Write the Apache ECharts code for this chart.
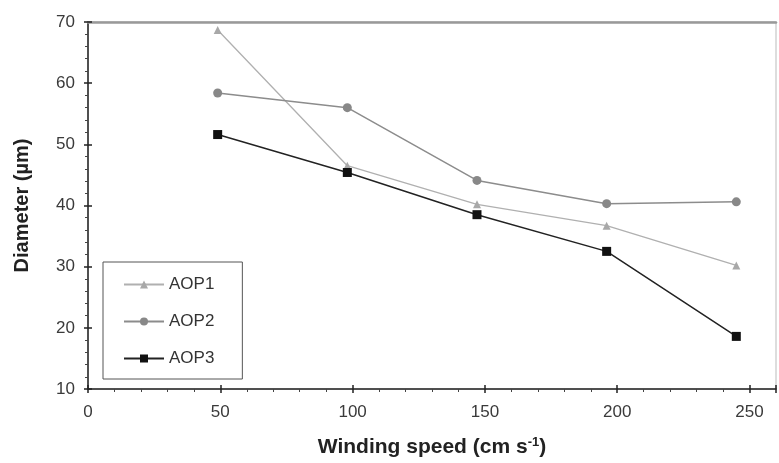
<!DOCTYPE html>
<html><head><meta charset="utf-8">
<script src="https://cdn.jsdelivr.net/npm/echarts@6/dist/echarts.min.js"></script>
<style>html,body{margin:0;padding:0;background:#fff}#c{width:779px;height:463px}</style>
</head><body><div id="c"></div>
<script>
const speeds = [49, 98, 147, 196, 245];
const aop1 = [68.7, 46.5, 40.2, 36.7, 30.2];
const aop2 = [58.4, 56.0, 44.1, 40.3, 40.6];
const aop3 = [51.6, 45.4, 38.5, 32.5, 18.6];
const seriesNames = ['AOP1', 'AOP2', 'AOP3'];

const chart = echarts.init(document.getElementById('c'));
const pair = arr => speeds.map((s, i) => [s, arr[i]]);
const font = 'Liberation Sans, Arial, sans-serif';
chart.setOption({
  animation: false,
  grid: {left: 88, top: 22, width: 690, height: 368, show: true, borderColor: '#bbb', borderWidth: 1},
  legend: {
    left: 103, top: 262, orient: 'vertical', itemWidth: 40, itemHeight: 10, itemGap: 20,
    padding: [14, 28, 12, 20], borderColor: '#555', borderWidth: 1, backgroundColor: '#fff',
    textStyle: {fontFamily: font, fontSize: 17, color: '#333'},
    data: seriesNames
  },
  xAxis: [{
    type: 'value', min: 0, max: 260, interval: 50,
    name: 'Winding speed (cm s{sup|-1})', nameLocation: 'middle', nameGap: 47,
    nameTextStyle: {fontFamily: font, fontSize: 21, fontWeight: 'bold', color: '#222',
      rich: {sup: {fontFamily: font, fontSize: 13, fontWeight: 'bold', color: '#222', padding: [0, 0, 10, 0]}}},
    axisLine: {lineStyle: {color: '#222', width: 1.5}},
    axisTick: {inside: false, length: 4, lineStyle: {color: '#222', width: 1.5}},
    minorTick: {show: true, splitNumber: 5, length: 3, lineStyle: {color: '#444'}},
    axisLabel: {fontFamily: font, fontSize: 17, color: '#3a3a3a', margin: 15,
      formatter: v => (v % 50 === 0 && v <= 250) ? String(v) : ''},
    splitLine: {show: false}
  }, {
    type: 'value', min: 0, max: 260, interval: 50, position: 'bottom', offset: 0,
    axisLine: {show: false}, axisLabel: {show: false},
    axisTick: {inside: true, length: 4, lineStyle: {color: '#222', width: 1.5}},
    splitLine: {show: false}
  }, {
    type: 'value', min: 0, max: 260, position: 'top', offset: 0,
    axisLine: {show: true, lineStyle: {color: '#999', width: 2.5}},
    axisLabel: {show: false}, axisTick: {show: false}, splitLine: {show: false}
  }],
  yAxis: [{
    type: 'value', min: 10, max: 70, interval: 10,
    name: 'Diameter (µm)', nameLocation: 'middle', nameGap: 56,
    nameTextStyle: {fontFamily: font, fontSize: 20, fontWeight: 'bold', color: '#222'},
    axisLine: {show: true, lineStyle: {color: '#222', width: 1.5}},
    axisTick: {inside: false, length: 4, lineStyle: {color: '#222', width: 1.5}},
    minorTick: {show: true, splitNumber: 5, length: 3, lineStyle: {color: '#444'}},
    axisLabel: {fontFamily: font, fontSize: 17, color: '#3a3a3a', margin: 13},
    splitLine: {show: false}
  }, {
    type: 'value', min: 10, max: 70, interval: 10, position: 'left', offset: 0,
    axisLine: {show: false}, axisLabel: {show: false},
    axisTick: {inside: true, length: 4, lineStyle: {color: '#222', width: 1.5}},
    splitLine: {show: false}
  }],
  series: [
    {name: 'AOP1', type: 'line', data: pair(aop1), symbol: 'triangle', symbolSize: 8,
      lineStyle: {color: '#b0b0b0', width: 1.3}, itemStyle: {color: '#a8a8a8'}},
    {name: 'AOP2', type: 'line', data: pair(aop2), symbol: 'circle', symbolSize: 9,
      lineStyle: {color: '#8c8c8c', width: 1.5}, itemStyle: {color: '#888'}},
    {name: 'AOP3', type: 'line', data: pair(aop3), symbol: 'rect', symbolSize: 9,
      lineStyle: {color: '#222', width: 1.5}, itemStyle: {color: '#111'}}
  ]
});
</script></body></html>
